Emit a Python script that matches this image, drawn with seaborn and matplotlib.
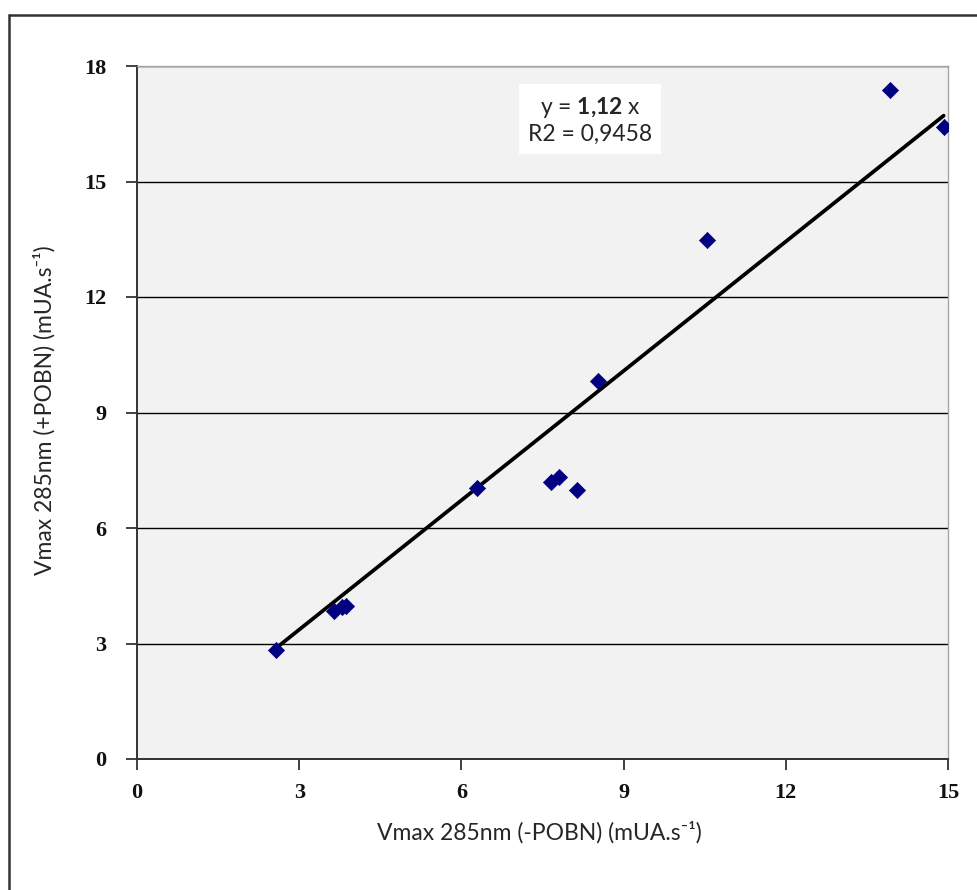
import matplotlib
matplotlib.use("Agg")
import matplotlib.pyplot as plt
from matplotlib.lines import Line2D
import seaborn as sns
import numpy as np
import pandas as pd

# Data
x_vals = [2.58, 3.64, 3.80, 3.87, 6.28, 7.65, 7.80, 8.13, 8.52, 10.55, 13.93, 14.92]
y_vals = [2.84, 3.85, 3.95, 3.97, 7.04, 7.19, 7.33, 6.99, 9.83, 13.48, 17.37, 16.41]
slope = 1.12
r2_text = "R2 = 0,9458"
x_ticks = [0, 3, 6, 9, 12, 15]
y_ticks = [0, 3, 6, 9, 12, 15, 18]
x_label = "Vmax 285nm (-POBN) (mUA.s\u207b\u00b9)"
y_label = "Vmax 285nm (+POBN) (mUA.s\u207b\u00b9)"

df = pd.DataFrame({"x": x_vals, "y": y_vals})

sns.set_style("white")
plt.rcParams['font.family'] = ['Lato', 'DejaVu Sans']
plt.rcParams['mathtext.fontset'] = 'custom'
plt.rcParams['mathtext.rm'] = 'Lato'
plt.rcParams['mathtext.bf'] = 'Lato:bold'

fig = plt.figure(figsize=(9.77, 8.90), dpi=100)
ax = fig.add_axes([137/977, 1-759/890, (948-137)/977, (759-66)/890])
ax.set_facecolor("#f2f2f2")

# gridlines
ax.set_axisbelow(True)
ax.yaxis.grid(True, color="black", linewidth=1.0)
ax.xaxis.grid(False)

# trend line
xl = np.array([min(x_vals), max(x_vals)])
line_df = pd.DataFrame({"x": xl, "y": slope * xl})
sns.lineplot(data=line_df, x="x", y="y", ax=ax, color="black", linewidth=2.7, zorder=3)

sns.scatterplot(data=df, x="x", y="y", ax=ax, marker="D", s=68, color="#000080",
                edgecolor="#000080", linewidth=0.5, zorder=4)

ax.set_xlim(0, 15)
ax.set_ylim(0, 18)
ax.set_xticks(x_ticks)
ax.set_yticks(y_ticks)
ax.set_xticklabels([str(t) for t in x_ticks], family=['Liberation Serif'], fontsize=16,
                   fontweight='bold')
ax.set_yticklabels([str(t) for t in y_ticks], family=['Liberation Serif'], fontsize=16,
                   fontweight='bold')
ax.tick_params(axis="both", direction="out", length=8, width=1.3, color="#333333",
               labelcolor="#111111")
ax.tick_params(axis="x", pad=9, bottom=True)
ax.tick_params(axis="y", pad=14, left=True)

for side in ["left", "bottom"]:
    ax.spines[side].set_color("#333333")
    ax.spines[side].set_linewidth(1.4)
for side in ["top", "right"]:
    ax.spines[side].set_color("#a6a6a6")
    ax.spines[side].set_linewidth(1.0)

ax.set_xlabel("")
ax.set_ylabel("")
fig.text(539/977, 1-832/890, x_label, ha="center", va="center", fontsize=16.5,
         family=['Lato', 'DejaVu Sans'])
fig.text(44/977, 1-410/890, y_label, ha="center", va="center", fontsize=16.5,
         rotation=90, family=['Lato', 'DejaVu Sans'])

# equation box
ax.text(8.38, 16.6, "y = $\\mathbf{1{,}12}$ x\n" + r2_text, ha="center", va="center",
        fontsize=16.5, linespacing=1.2, zorder=5,
        bbox=dict(boxstyle="square,pad=0.4", facecolor="white", edgecolor="none"))

# outer frame
fig.add_artist(Line2D([9/977, 9/977], [0, 1-15/890], transform=fig.transFigure,
                      color="#333333", linewidth=1.8))
fig.add_artist(Line2D([9/977, 1], [1-15/890, 1-15/890], transform=fig.transFigure,
                      color="#333333", linewidth=1.8))

fig.savefig("out.png", dpi=100)
